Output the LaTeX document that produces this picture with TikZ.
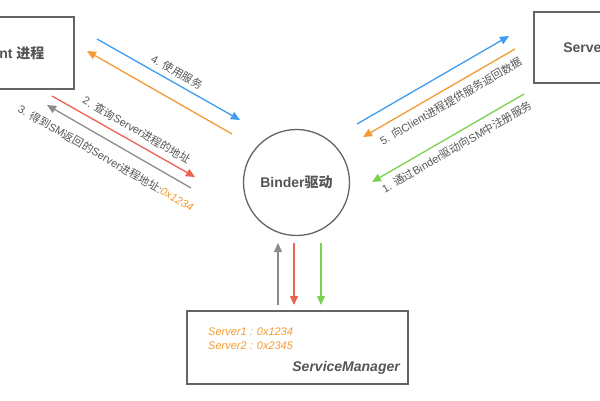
\documentclass[tikz,border=0pt]{standalone}
\usepackage{fontspec}
\setmainfont{Liberation Sans}
\newfontfamily\cjk{Noto Sans CJK SC}
\usetikzlibrary{arrows.meta}
\definecolor{cblue}{RGB}{62,156,240}
\definecolor{corange}{RGB}{244,154,52}
\definecolor{cred}{RGB}{236,98,80}
\definecolor{cgray}{RGB}{140,140,140}
\definecolor{cgreen}{RGB}{122,210,80}
\definecolor{cline}{RGB}{100,100,100}
\definecolor{ctext}{RGB}{85,85,85}
\tikzset{
  boxnode/.style={draw=cline, line width=1.4pt, inner sep=0pt, text=ctext,
    font=\fontsize{14}{16}\selectfont\bfseries},
  arr/.style={line width=1.3pt, -{Triangle[length=9pt,width=8pt]}},
  lbl/.style={text=ctext, inner sep=0pt, font=\fontsize{11}{13}\selectfont},
  addr/.style={text=corange, inner sep=0pt, font=\fontsize{11}{13}\selectfont\itshape},
}
\begin{document}
\begin{tikzpicture}[x=1pt,y=-1pt]
\useasboundingbox (0,0) rectangle (600,400);
\clip (0,0) rectangle (600,400);

% boxes
\node[boxnode, minimum width=130pt, minimum height=72pt] (client) at (9,53) {Client {\cjk 进程}};
\node[boxnode, minimum width=134pt, minimum height=71pt] (server) at (601,47.5) {Server {\cjk 进程}};
\node[boxnode, circle, minimum size=106pt, line width=1.3pt] (binder) at (296.5,182.5) {Binder{\cjk 驱动}};
\node[boxnode, minimum width=221pt, minimum height=73pt] (sm) at (297.5,347.5) {};

% SM contents
\node[addr, anchor=west] (s1) at (208,332) {Server1 : 0x1234};
\node[addr, anchor=west] (s2) at (208,346) {Server2 : 0x2345};
\node[text=ctext, inner sep=0pt, anchor=east, font=\fontsize{14}{16}\selectfont\bfseries\itshape] (smname) at (400,368) {ServiceManager};

% coordinates of arrow ends
\coordinate (b1) at (97,39);   \coordinate (b2) at (240,120);
\coordinate (o1) at (232,134); \coordinate (o2) at (87,51);
\coordinate (r1) at (52,96);   \coordinate (r2) at (195,177);
\coordinate (g1) at (191,188); \coordinate (g2) at (47,105);
\coordinate (rb1) at (357,124); \coordinate (rb2) at (509,36);
\coordinate (ro1) at (515,49);  \coordinate (ro2) at (363,137);
\coordinate (rg1) at (524,94);  \coordinate (rg2) at (372,182);
\coordinate (vg1) at (278,305); \coordinate (vg2) at (278,243);
\coordinate (vr1) at (294,243); \coordinate (vr2) at (294,305);
\coordinate (vn1) at (321,243); \coordinate (vn2) at (321,305);

\draw[arr, cblue] (b1) -- (b2);
\draw[arr, corange] (o1) -- (o2);
\draw[arr, cred] (r1) -- (r2);
\draw[arr, cgray] (g1) -- (g2);
\draw[arr, cblue] (rb1) -- (rb2);
\draw[arr, corange] (ro1) -- (ro2);
\draw[arr, cgreen] (rg1) -- (rg2);
\draw[arr, cgray] (vg1) -- (vg2);
\draw[arr, cred] (vr1) -- (vr2);
\draw[arr, cgreen] (vn1) -- (vn2);

% labels
\node[lbl, rotate=-30] (l4) at (177,72) {4. {\cjk 使用服务}};
\node[lbl, rotate=-30] (l2) at (137,130) {2. {\cjk 查询}Server{\cjk 进程的地址}};
\node[lbl, rotate=-30] (l3) at (106,158) {3. {\cjk 得到}SM{\cjk 返回的}Server{\cjk 进程地址}:{\color{corange}\itshape 0x1234}};
\node[lbl, rotate=30] (l5) at (451,101) {5. {\cjk 向}Client{\cjk 进程提供服务返回数据}};
\node[lbl, rotate=30] (l1) at (457,147) {1. {\cjk 通过}Binder{\cjk 驱动向}SM{\cjk 中注册服务}};
\end{tikzpicture}
\end{document}
